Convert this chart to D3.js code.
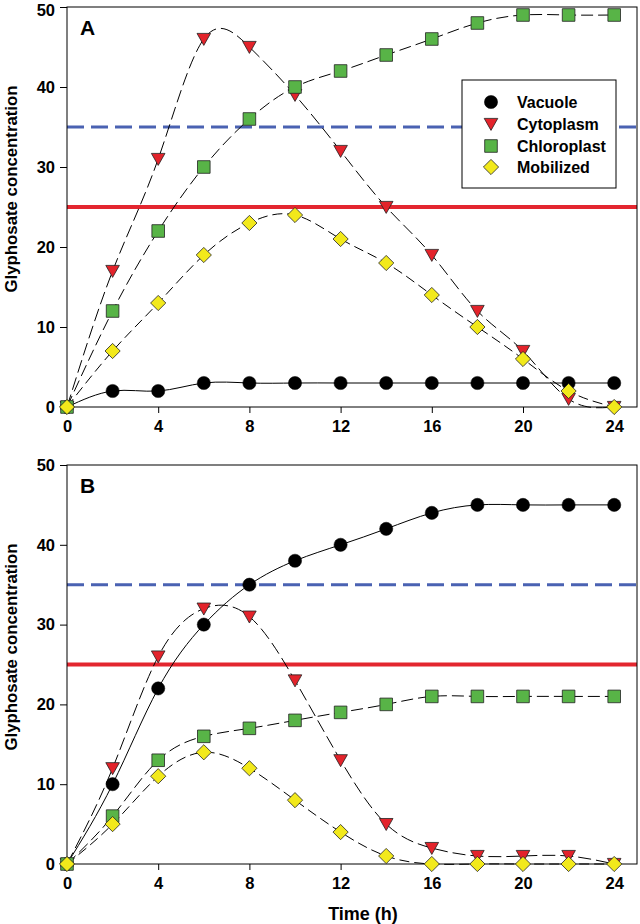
<!DOCTYPE html>
<html>
<head>
<meta charset="utf-8">
<script src="https://cdn.jsdelivr.net/npm/d3@7"></script>
<style>
  html, body { margin: 0; padding: 0; background: #fff; }
  svg { display: block; }
  text { font-family: "Liberation Sans", Arial, sans-serif; font-weight: bold; fill: #000; }
</style>
</head>
<body>
<svg id="chart" width="640" height="924"></svg>
<script>
// ---------- data ----------
const times = [0, 2, 4, 6, 8, 10, 12, 14, 16, 18, 20, 22, 24];
const seriesNames = ["Vacuole", "Cytoplasm", "Chloroplast", "Mobilized"];

const vacuoleA     = [0, 2, 2, 3, 3, 3, 3, 3, 3, 3, 3, 3, 3];
const cytoplasmA   = [0, 17, 31, 46, 45, 39, 32, 25, 19, 12, 7, 1, 0];
const chloroplastA = [0, 12, 22, 30, 36, 40, 42, 44, 46, 48, 49, 49, 49];
const mobilizedA   = [0, 7, 13, 19, 23, 24, 21, 18, 14, 10, 6, 2, 0];

const vacuoleB     = [0, 10, 22, 30, 35, 38, 40, 42, 44, 45, 45, 45, 45];
const cytoplasmB   = [0, 12, 26, 32, 31, 23, 13, 5, 2, 1, 1, 1, 0];
const chloroplastB = [0, 6, 13, 16, 17, 18, 19, 20, 21, 21, 21, 21, 21];
const mobilizedB   = [0, 5, 11, 14, 12, 8, 4, 1, 0, 0, 0, 0, 0];

const panelLabels = ["A", "B"];
const xTicks = [0, 4, 8, 12, 16, 20, 24];
const yTicks = [0, 10, 20, 30, 40, 50];
const refBlue = 35;
const refRed = 25;
const xTitle = "Time (h)";
const yTitle = "Glyphosate concentration";

// ---------- styles ----------
const styles = {
  Vacuole:     { shape: "circle",   fill: "#000000", dash: null },
  Cytoplasm:   { shape: "triangle", fill: "#e3232b", dash: "13,5" },
  Chloroplast: { shape: "square",   fill: "#58b447", dash: "12,5" },
  Mobilized:   { shape: "diamond",  fill: "#f2e91b", dash: "10,5" }
};

const svg = d3.select("#chart");

function markerPath(shape) {
  const p = d3.path();
  if (shape === "triangle") {
    p.moveTo(-6.8, -5.6); p.lineTo(6.8, -5.6); p.lineTo(0, 6.4); p.closePath();
  } else if (shape === "square") {
    p.rect(-6.3, -6.3, 12.6, 12.6);
  } else if (shape === "diamond") {
    p.moveTo(0, -7.6); p.lineTo(7.6, 0); p.lineTo(0, 7.6); p.lineTo(-7.6, 0); p.closePath();
  } else {
    p.arc(0, 0, 6.6, 0, 2 * Math.PI);
  }
  return p.toString();
}

function drawMarker(g, shape, fill, x, y) {
  g.append("path")
    .attr("d", markerPath(shape))
    .attr("transform", `translate(${x},${y})`)
    .attr("fill", fill)
    .attr("stroke", shape === "circle" ? "#000" : "#222")
    .attr("stroke-width", shape === "circle" ? 0.5 : 0.8);
}

const panels = [
  { label: panelLabels[0], top: 7, bottom: 407, data: [vacuoleA, cytoplasmA, chloroplastA, mobilizedA], legend: true, xTitle: false, yTitleY: 189 },
  { label: panelLabels[1], top: 465, bottom: 864, data: [vacuoleB, cytoplasmB, chloroplastB, mobilizedB], legend: false, xTitle: true, yTitleY: 647 }
];

const left = 67, right = 637;
const x = d3.scaleLinear().domain([0, 25]).range([left, right]);

panels.forEach((panel, pi) => {
  const y = d3.scaleLinear().domain([0, 50]).range([panel.bottom, panel.top]);
  const g = svg.append("g");

  // reference lines
  g.append("line")
    .attr("x1", left).attr("x2", right)
    .attr("y1", y(refBlue)).attr("y2", y(refBlue))
    .attr("stroke", "#4a62b2").attr("stroke-width", 3)
    .attr("stroke-dasharray", "17,7");
  g.append("line")
    .attr("x1", left).attr("x2", right)
    .attr("y1", y(refRed)).attr("y2", y(refRed))
    .attr("stroke", "#e3262f").attr("stroke-width", 4);

  // frame
  g.append("rect")
    .attr("x", left).attr("y", panel.top)
    .attr("width", right - left).attr("height", panel.bottom - panel.top)
    .attr("fill", "none").attr("stroke", "#000").attr("stroke-width", 1);

  // axes
  const xAxis = d3.axisBottom(x).tickValues(xTicks).tickSize(6).tickPadding(7).tickFormat(d3.format("d"));
  const yAxis = d3.axisLeft(y).tickValues(yTicks).tickSize(7).tickPadding(5).tickFormat(d3.format("d"));
  const gx = g.append("g").attr("transform", `translate(0,${panel.bottom})`).call(xAxis);
  const gy = g.append("g").attr("transform", `translate(${left},0)`).call(yAxis);
  [gx, gy].forEach(a => {
    a.selectAll("path.domain").remove();
    a.selectAll("line").attr("stroke", "#000").attr("stroke-width", 1);
    a.selectAll("text").attr("font-size", 16.5).attr("font-weight", "bold")
      .attr("font-family", "'Liberation Sans', Arial, sans-serif").attr("fill", "#000");
  });
  if (pi === 0) {
    // keep the top tick label inside the page
    gy.selectAll(".tick text").filter(d => d === 50).attr("dy", "0.5em");
  }

  // series lines
  const line = d3.line().x(d => x(d[0])).y(d => y(d[1])).curve(d3.curveNatural);
  seriesNames.forEach((name, i) => {
    const pts = times.map((t, j) => [t, panel.data[i][j]]);
    g.append("path")
      .attr("d", line(pts))
      .attr("fill", "none")
      .attr("stroke", "#000")
      .attr("stroke-width", 1)
      .attr("stroke-dasharray", styles[name].dash);
  });
  // markers
  seriesNames.forEach((name, i) => {
    const mg = g.append("g");
    times.forEach((t, j) => drawMarker(mg, styles[name].shape, styles[name].fill, x(t), y(panel.data[i][j])));
  });

  // panel label
  g.append("text").attr("x", 80).attr("y", panel.top + 28)
    .attr("font-size", 21).text(panel.label);

  // y title
  g.append("text")
    .attr("transform", `translate(17,${panel.yTitleY}) rotate(-90)`)
    .attr("text-anchor", "middle")
    .attr("font-size", 16.8)
    .text(yTitle);

  if (panel.xTitle) {
    g.append("text")
      .attr("x", 363).attr("y", 920)
      .attr("text-anchor", "middle")
      .attr("font-size", 18)
      .text(xTitle);
  }

  if (panel.legend) {
    const lg = g.append("g");
    lg.append("rect").attr("x", 462).attr("y", 80).attr("width", 154).attr("height", 108)
      .attr("fill", "#fff").attr("stroke", "#000").attr("stroke-width", 1);
    const ly = [102, 124, 146, 167];
    seriesNames.forEach((name, i) => {
      drawMarker(lg, styles[name].shape, styles[name].fill, 491, ly[i]);
      lg.append("text").attr("x", 517).attr("y", ly[i] + 6)
        .attr("font-size", 16).text(name);
    });
  }
});
</script>
</body>
</html>
